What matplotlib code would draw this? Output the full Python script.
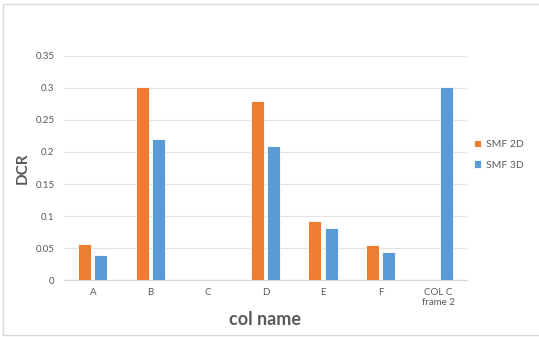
import numpy as np
import matplotlib
matplotlib.use("Agg")
import matplotlib.pyplot as plt
from matplotlib.patches import Rectangle

categories = ["A", "B", "C", "D", "E", "F", "COL C\nframe 2"]
smf_2d = [0.057, 0.302, np.nan, 0.279, 0.092, 0.055, np.nan]
smf_3d = [0.039, 0.220, np.nan, 0.210, 0.082, 0.044, 0.301]
series_names = ["SMF 2D", "SMF 3D"]
y_ticks = [0, 0.05, 0.1, 0.15, 0.2, 0.25, 0.3, 0.35]
y_tick_labels = ["0", "0.05", "0.1", "0.15", "0.2", "0.25", "0.3", "0.35"]

ORANGE = "#ED7D31"
BLUE = "#5B9BD5"
TEXT = "#595959"

plt.rcParams["font.family"] = ["Lato", "DejaVu Sans"]

fig = plt.figure(figsize=(5.39, 3.37), dpi=100)
ax = fig.add_axes([0.119, 0.169, 0.747, 0.665])

x = np.arange(len(categories))
w = 0.225
ax.bar(x - 0.14, smf_2d, width=w, color=ORANGE, edgecolor="white", linewidth=0.6,
       label=series_names[0], zorder=3)
ax.bar(x + 0.14, smf_3d, width=w, color=BLUE, edgecolor="white", linewidth=0.6,
       label=series_names[1], zorder=3)

ax.set_xlim(-0.5, len(categories) - 0.5)
ax.set_ylim(0, 0.35)
ax.set_yticks(y_ticks)
ax.set_yticklabels(y_tick_labels)
ax.set_xticks(x)
ax.set_xticklabels(categories)
for lbl in ax.get_xticklabels():
    if "\n" in lbl.get_text():
        lbl.set_fontsize(5.5)
        lbl.set_linespacing(1.1)

ax.tick_params(axis="both", length=0, colors=TEXT, labelsize=7)
ax.tick_params(axis="y", pad=7)
ax.tick_params(axis="x", pad=6)
ax.grid(axis="y", color="#e3e3e3", linewidth=0.9, zorder=0)
for s in ["top", "right", "left"]:
    ax.spines[s].set_visible(False)
ax.spines["bottom"].set_color("#d9d9d9")
ax.spines["bottom"].set_linewidth(0.9)

ax.set_ylabel("DCR", fontsize=11, fontweight="bold", color=TEXT, labelpad=4)
ax.set_xlabel("col name", fontsize=13, fontweight="bold", color=TEXT, labelpad=3)

leg = ax.legend(loc="center left", bbox_to_anchor=(1.0, 0.56), frameon=False,
                fontsize=7.5, handlelength=0.7, handleheight=0.7, handletextpad=0.4,
                labelspacing=1.1, borderaxespad=0.3)
for t in leg.get_texts():
    t.set_color(TEXT)

fig.patches.append(Rectangle((3 / 539, 2 / 337), 540 / 539, 331 / 337,
                             transform=fig.transFigure, fill=False,
                             edgecolor="#d9d9d9", linewidth=1.0))

fig.savefig("out.png", dpi=100)
